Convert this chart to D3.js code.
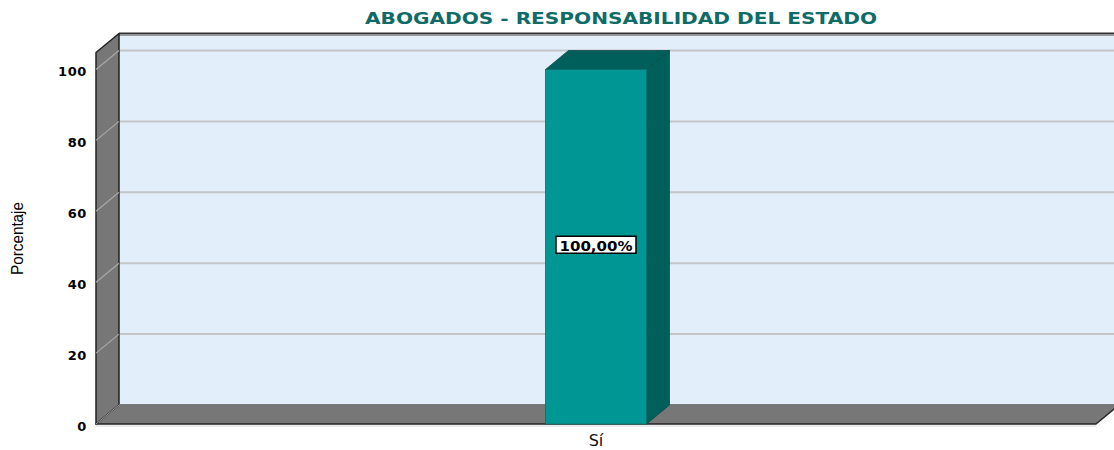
<!DOCTYPE html>
<html><head><meta charset="utf-8">
<script src="https://cdn.jsdelivr.net/npm/d3@7"></script>
<style>html,body{margin:0;padding:0;background:#fff;}svg{display:block;}</style>
</head><body>
<svg id="c" width="1114" height="450"></svg>
<script>
const title = "ABOGADOS - RESPONSABILIDAD DEL ESTADO";
const yTitle = "Porcentaje";
const categories = ["Sí"];
const values = [100];
const valueLabels = ["100,00%"];
const yTicks = [0, 20, 40, 60, 80, 100];

const svg = d3.select("#c");
const W = 1114, H = 450;
const left = 96, right = 1096, bottom = 424;
const dx = 23, dy = -19;
const y = d3.scaleLinear().domain([0, 100]).range([bottom, 69.5]);
const yMax = 104.8;
const x = d3.scaleBand().domain(categories).range([left, right]);
const barFrac = 0.101;

// back wall
svg.append("rect").attr("x", left + dx).attr("y", y(yMax) + dy)
  .attr("width", W).attr("height", y(0) - y(yMax))
  .attr("fill", "#e2eefa");
// back wall grid lines
yTicks.filter(t => t > 0).forEach(t => {
  svg.append("line").attr("x1", left + dx).attr("x2", W + 10)
    .attr("y1", y(t) + dy).attr("y2", y(t) + dy)
    .attr("stroke", "#c4c6c8").attr("stroke-width", 2);
});
// back wall top border
svg.append("line").attr("x1", left + dx).attr("x2", W + 10)
  .attr("y1", y(yMax) + dy).attr("y2", y(yMax) + dy)
  .attr("stroke", "#333").attr("stroke-width", 2);
svg.append("line").attr("x1", left + dx).attr("x2", W + 10)
  .attr("y1", y(yMax) + dy + 2).attr("y2", y(yMax) + dy + 2)
  .attr("stroke", "#999").attr("stroke-width", 1);

// left wall
const lw = [[left, y(0)], [left, y(yMax)], [left + dx, y(yMax) + dy], [left + dx, y(0) + dy]];
svg.append("polygon").attr("points", lw.map(p => p.join(",")).join(" "))
  .attr("fill", "#777777").attr("stroke", "#222").attr("stroke-width", 1.5).attr("stroke-linejoin", "round");
yTicks.filter(t => t > 0).forEach(t => {
  svg.append("line").attr("x1", left).attr("x2", left + dx)
    .attr("y1", y(t)).attr("y2", y(t) + dy)
    .attr("stroke", "#a8a8a8").attr("stroke-width", 1.2);
});

// floor
const fl = [[left, y(0)], [right, y(0)], [right + dx, y(0) + dy], [left + dx, y(0) + dy]];
svg.append("polygon").attr("points", fl.map(p => p.join(",")).join(" "))
  .attr("fill", "#777777").attr("stroke", "#222").attr("stroke-width", 1.5).attr("stroke-linejoin", "round");
svg.append("line").attr("x1", left + dx).attr("x2", W + 10)
  .attr("y1", y(0) + dy).attr("y2", y(0) + dy)
  .attr("stroke", "#8a8a8a").attr("stroke-width", 1.5);
svg.append("line").attr("x1", left).attr("x2", left + dx)
  .attr("y1", y(0)).attr("y2", y(0) + dy)
  .attr("stroke", "#a8a8a8").attr("stroke-width", 1);
svg.append("line").attr("x1", left).attr("x2", right)
  .attr("y1", y(0) + 2).attr("y2", y(0) + 2)
  .attr("stroke", "#d8d8d8").attr("stroke-width", 1);

// bars
categories.forEach((c, i) => {
  const bw = x.bandwidth() * barFrac;
  const cx = x(c) + x.bandwidth() / 2;
  const x0 = cx - bw / 2, x1 = cx + bw / 2;
  const yt = y(values[i]), yb = y(0);
  svg.append("polygon").attr("points", [[x1, yt], [x1 + dx, yt + dy], [x1 + dx, yb + dy], [x1, yb]].map(p => p.join(",")).join(" "))
    .attr("fill", "#005e5b").attr("stroke", "#0a4a48").attr("stroke-width", 0.8);
  svg.append("polygon").attr("points", [[x0, yt], [x0 + dx, yt + dy], [x1 + dx, yt + dy], [x1, yt]].map(p => p.join(",")).join(" "))
    .attr("fill", "#005e5b").attr("stroke", "#0a4a48").attr("stroke-width", 0.8);
  svg.append("rect").attr("x", x0).attr("y", yt).attr("width", bw).attr("height", yb - yt)
    .attr("fill", "#009693").attr("stroke", "#0b6e6b").attr("stroke-width", 0.8);
  // value label
  const ly = (yt + yb) / 2 - 2;
  const g = svg.append("g");
  const boxW = 80, boxH = 17;
  g.append("rect").attr("x", cx - boxW / 2).attr("y", ly - boxH / 2).attr("width", boxW).attr("height", boxH)
    .attr("fill", "#fff").attr("stroke", "#000").attr("stroke-width", 1.5);
  g.append("text").attr("x", cx).attr("y", ly + 1).attr("text-anchor", "middle")
    .attr("dominant-baseline", "central")
    .attr("font-family", "DejaVu Sans, Verdana, sans-serif").attr("font-weight", "bold")
    .attr("font-size", 14).attr("fill", "#000")
    .attr("textLength", 73).attr("lengthAdjust", "spacingAndGlyphs").text(valueLabels[i]);
  // category label
  svg.append("text").attr("x", cx).attr("y", 446).attr("text-anchor", "middle")
    .attr("font-family", "DejaVu Sans, Verdana, sans-serif").attr("font-size", 16).attr("fill", "#111").text(c);
});

// y tick labels
yTicks.forEach(t => {
  svg.append("text").attr("x", 87).attr("y", y(t) + 2).attr("text-anchor", "end")
    .attr("dominant-baseline", "central")
    .attr("font-family", "DejaVu Sans, Verdana, sans-serif").attr("font-weight", "bold")
    .attr("font-size", 13).attr("letter-spacing", 0.6).attr("fill", "#000").text(t);
});

// y title
svg.append("text").attr("transform", "translate(23,238.5) rotate(-90)").attr("text-anchor", "middle")
  .attr("font-family", "Liberation Sans Narrow, Arial Narrow, sans-serif").attr("font-size", 17)
  .attr("textLength", 73).attr("lengthAdjust", "spacingAndGlyphs")
  .attr("fill", "#000").text(yTitle);

// title
svg.append("text").attr("x", 621).attr("y", 24).attr("text-anchor", "middle")
  .attr("font-family", "DejaVu Sans, Verdana, sans-serif").attr("font-weight", "bold")
  .attr("font-size", 16.5).attr("fill", "#0e6b67")
  .attr("textLength", 512).attr("lengthAdjust", "spacingAndGlyphs").text(title);
</script>
</body></html>
